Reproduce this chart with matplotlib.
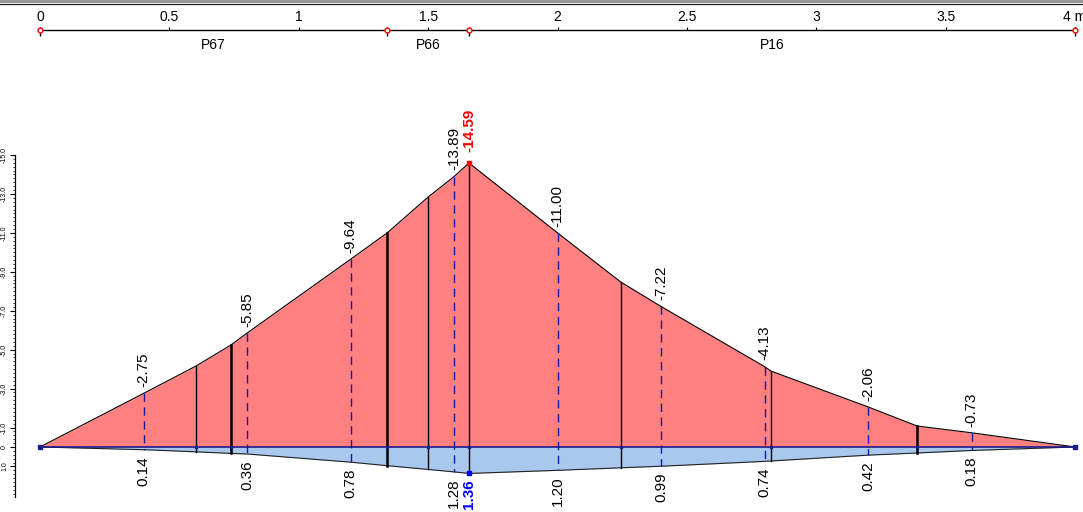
import numpy as np
import matplotlib.pyplot as plt
from matplotlib.lines import Line2D
from matplotlib.ticker import FixedLocator, MultipleLocator

plt.rcParams['font.family'] = ['Liberation Sans', 'DejaVu Sans']

# supports along the beam (m) and span names
supp_x = [0.0, 1.341, 1.658, 4.0]
span_names = ['P67', 'P66', 'P16']
ruler_ticks = [0, 0.5, 1, 1.5, 2, 2.5, 3, 3.5, 4]
ruler_labels = ['0', '0.5', '1', '1.5', '2', '2.5', '3', '3.5', '4 m']

# section breaks: hogging (neg) and sagging (pos) envelope values, kNm
sec_x = [0.603, 0.738, 1.341, 1.5, 1.658, 2.245, 2.825, 3.389]
sec_neg = [-4.16, -5.24, -10.99, -12.84, -14.59, -8.47, -3.90, -1.08]
sec_pos = [0.25, 0.33, 0.96, 1.155, 1.36, 1.07, 0.72, 0.31]

# labelled stations
lbl_x = [0.4, 0.8, 1.2, 1.6, 2.0, 2.4, 2.8, 3.2, 3.6]
lbl_neg = [-2.75, -5.85, -9.64, -13.89, -11.00, -7.22, -4.13, -2.06, -0.73]
lbl_pos = [0.14, 0.36, 0.78, 1.28, 1.20, 0.99, 0.74, 0.42, 0.18]

# extreme values
peak_x = 1.658
peak_neg = -14.59
peak_pos = 1.36

y_major = [-15, -13, -11, -9, -7, -5, -3, -1, 0, 1]
y_major_lbl = ['-15.0', '-13.0', '-11.0', '-9.0', '-7.0', '-5.0', '-3.0', '-1.0', '0', '1.0']

thick_secs = {0.738, 1.341, 3.389}

W, H = 1083, 512
fig = plt.figure(figsize=(W / 100, H / 100), dpi=100)

# header bar
fig.add_artist(Line2D([0, 1], [1 - 1.2 / H, 1 - 1.2 / H], color='#9a9a9a', lw=2.2))
fig.add_artist(Line2D([0, 1], [1 - 3.5 / H, 1 - 3.5 / H], color='#222222', lw=0.9))

# ---- ruler ----
rax = fig.add_axes([40 / W, (H - 50) / H, 1035 / W, 20 / H])
rax.set_xlim(0, 4)
rax.set_ylim(-1, 0)
for s in ['left', 'right', 'bottom']:
    rax.spines[s].set_visible(False)
rax.spines['top'].set_linewidth(1.0)
rax.set_yticks([])
rax.set_xticks(ruler_ticks)
rax.set_xticklabels(ruler_labels)
rax.tick_params(axis='x', top=True, bottom=False, labeltop=True, labelbottom=False,
                direction='out', length=2, width=0.8, pad=2, labelsize=10)
rax.vlines(supp_x, -0.3, 0.15, color='black', lw=1.0, clip_on=False)
rax.plot(supp_x, [0] * len(supp_x), 'o', ms=3.5, mfc='white', mec='red', mew=1.0,
         clip_on=False, zorder=5)
for a, b, name in zip(supp_x[:-1], supp_x[1:], span_names):
    rax.text((a + b) / 2, -0.75, name, ha='center', va='center', fontsize=10)

# ---- moment diagram ----
ax = fig.add_axes([40 / W, 15 / H, 1035 / W, 342 / H])
ax.set_xlim(0, 4)
ax.set_ylim(2.57, -15)

xs = np.array([0.0] + sec_x + lbl_x + [4.0])
neg = np.array([0.0] + sec_neg + lbl_neg + [0.0])
pos = np.array([0.0] + sec_pos + lbl_pos + [0.0])
order = np.argsort(xs)
xs, neg, pos = xs[order], neg[order], pos[order]

ax.fill_between(xs, 0, neg, color='#ff8080', lw=0)
ax.fill_between(xs, 0, pos, color='#a8c8ee', lw=0)
ax.plot(xs, neg, color='black', lw=0.8)
ax.plot(xs, pos, color='#222222', lw=0.8)

for x, n, p in zip(sec_x, sec_neg, sec_pos):
    ax.plot([x, x], [n, p], color='black', lw=1.8 if x in thick_secs else 1.0)

for x, n, p in zip(lbl_x, lbl_neg, lbl_pos):
    ax.plot([x, x], [n, p], color='#1a1aa0', lw=1.0, dashes=(6, 4))
    ax.annotate(f'{n:.2f}', (x, n), xytext=(0, 4.5), textcoords='offset points',
                rotation=90, ha='center', va='bottom', fontsize=11)
    ax.annotate(f'{p:.2f}', (x, p), xytext=(0, -4.5), textcoords='offset points',
                rotation=90, ha='center', va='top', fontsize=11)

ax.annotate(f'{peak_neg:.2f}', (peak_x, peak_neg), xytext=(0, 8), textcoords='offset points',
            rotation=90, ha='center', va='bottom', fontsize=11, color='red',
            fontweight='bold')
ax.annotate(f'{peak_pos:.2f}', (peak_x, peak_pos), xytext=(0, -4.5), textcoords='offset points',
            rotation=90, ha='center', va='top', fontsize=11, color='blue',
            fontweight='bold')
ax.plot([peak_x], [peak_neg], 's', ms=3, color='red', zorder=6)
ax.plot([peak_x], [peak_pos], 's', ms=3, color='blue', zorder=6)

# axis line
ax.plot([0, 4], [0, 0], color='#1a1a8c', lw=1.2, zorder=4)
ax.plot([0, 4], [0, 0], 's', ms=3, color='#1a1a8c', zorder=5, clip_on=False)
ax.plot(sec_x, [0] * len(sec_x), 's', ms=2, color='#1a1a8c', zorder=5)

for s in ['top', 'right', 'bottom']:
    ax.spines[s].set_visible(False)
ax.spines['left'].set_position(('outward', 18))
ax.spines['left'].set_linewidth(0.9)
ax.set_xticks([])
ax.yaxis.set_major_locator(FixedLocator(y_major))
ax.set_yticklabels(y_major_lbl)
ax.yaxis.set_minor_locator(MultipleLocator(0.2))
ax.tick_params(axis='y', which='major', direction='out', length=3.5, width=0.8,
               labelsize=5, labelrotation=90, pad=1.5)
ax.tick_params(axis='y', which='minor', direction='out', length=1.6, width=0.5)
for t in ax.get_yticklabels():
    t.set_verticalalignment('center')

fig.savefig('out.png', dpi=100)
